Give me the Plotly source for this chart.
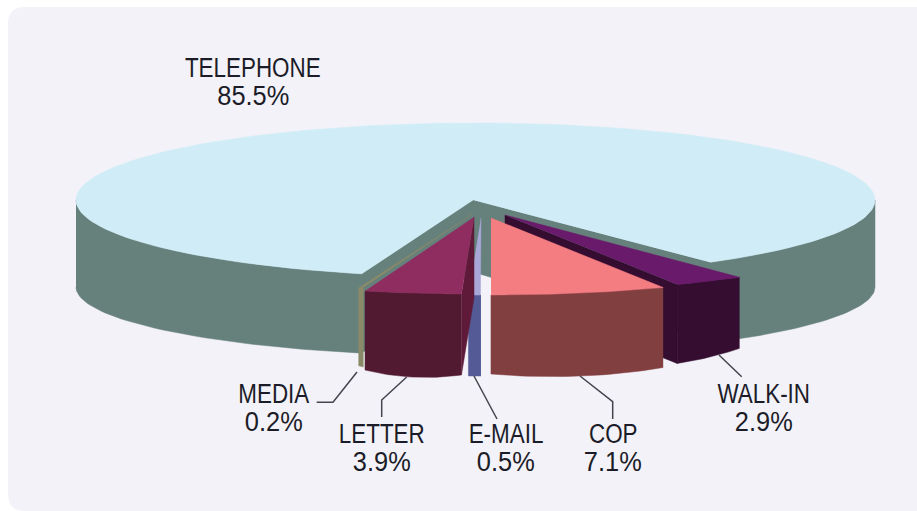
import math
import plotly.graph_objects as go

# Share of calls by contact channel (percent)
categories = ["WALK-IN", "COP", "E-MAIL", "LETTER", "MEDIA", "TELEPHONE"]
shares = [2.9, 7.1, 0.5, 3.9, 0.2, 85.5]

# Colours per channel: top face, outer side, cut wall
top_colors = ["#6a1a6a", "#f47d82", "#a9a6d8", "#8f2c60", "#8a8a68", "#d0ecf7"]
side_colors = ["#340d30", "#823f40", "#545a96", "#521a30", "#8a8a68", "#66807c"]
wall_colors = ["#340d30", None, None, "#5e1a38", None, None]

# Pie projection, in plot units (the axes run 1:1 with the page)
RX, RY = 399.5, 77.0
START_DEG = 54.04
BODY_CENTER = (475.5, 200.0)
BODY_APEX = (473.0, 200.0)
BODY_DEPTH, BODY_FLOOR_RY, BODY_APEX_DEPTH = 87.0, 69.0, 72.0

# Exploded slice centres and their side heights at start, middle and end of the arc
slice_apex = [(505.0, 215.0), (491.0, 218.0), (481.0, 218.0), (474.0, 217.0), (472.5, 214.0)]
slice_depth = [
    (71.0, 76.0, 79.0),
    (80.0, 83.0, 79.0),
    (81.0, 81.0, 81.0),
    (81.0, 84.0, 79.0),
    (79.0, 78.5, 78.0),
]

# Label placement: centre x, first-line y, second-line y
label_pos = {
    "TELEPHONE": (253, 67.5, 95.5),
    "MEDIA": (274, 394, 422),
    "LETTER": (382, 434, 462),
    "E-MAIL": (505.5, 434, 462),
    "COP": (613, 434, 462),
    "WALK-IN": (763.5, 393.5, 421.5),
}
leaders = {
    "MEDIA": [(316.7, 402.3), (333, 402.3), (357, 372)],
    "LETTER": [(406.7, 377), (381.7, 400), (381.7, 417)],
    "E-MAIL": [(474, 376), (497, 419)],
    "COP": [(580, 376), (612.7, 401.7), (612.7, 419)],
    "WALK-IN": [(719, 355), (741.7, 376.7)],
}
LABEL_FONT = "Liberation Sans, Arial, sans-serif"
LABEL_SIZE = 27
NAME_SQUEEZE = 0.83
SHARE_SQUEEZE = 0.94
LABEL_COLOR = "#1c1c28"
PANEL_COLOR = "#f2f2f8"


def rim(center, deg):
    t = math.radians(deg)
    return center[0] + RX * math.cos(t), center[1] + RY * math.sin(t)


def arc(center, a, b, n=60):
    return [rim(center, a + (b - a) * i / n) for i in range(n + 1)]


def polygon(fig, points, color):
    fig.add_trace(go.Scatter(
        x=[p[0] for p in points], y=[p[1] for p in points],
        mode="lines", fill="toself", fillcolor=color,
        line=dict(color=color, width=0.5), hoverinfo="skip", showlegend=False,
    ))


def side_height(depths, u):
    # quadratic through the start, middle and end heights, u in 0..1
    d0, dm, d1 = depths
    return (
        d0 * (1 - u) * (1 - 2 * u)
        + dm * 4 * u * (1 - u)
        + d1 * u * (2 * u - 1)
    )


# Turn the shares into sweep angles, going round from the right-hand cut
total = sum(shares)
edges = [START_DEG]
for value in shares:
    edges.append(edges[-1] + value / total * 360)

fig = go.Figure()

# Body of the largest slice: outer side on both flanks plus the inner cut walls
a_left, a_right = edges[-2], edges[-1]
floor = lambda deg: (
    BODY_CENTER[0] + RX * math.cos(math.radians(deg)),
    BODY_CENTER[1] + BODY_DEPTH + BODY_FLOOR_RY * math.sin(math.radians(deg)),
)
body = arc(BODY_CENTER, 180, a_left) + [BODY_APEX] + arc(BODY_CENTER, a_right - 360, 0)
body += [floor(a_right - 360 + (0 - (a_right - 360)) * (1 - i / 40)) for i in range(41)]
body += [(BODY_APEX[0], BODY_APEX[1] + BODY_APEX_DEPTH)]
body += [floor(a_left + (180 - a_left) * i / 40) for i in range(41)]
polygon(fig, body, side_colors[-1])
polygon(fig, [BODY_APEX] + arc(BODY_CENTER, a_left, a_right, 200), top_colors[-1])

# Exploded slices, back to front as seen from the right
for i in range(5):
    a, b = edges[i], edges[i + 1]
    apex = slice_apex[i]
    depths = slice_depth[i]
    # the wall on the cut edge that faces the viewer
    if wall_colors[i]:
        near = a if categories[i] == "LETTER" else b
        dn = depths[0] if near == a else depths[2]
        corner = rim(apex, near)
        polygon(fig, [apex, (apex[0], apex[1] + dn), (corner[0], corner[1] + dn), corner], wall_colors[i])
    upper = arc(apex, a, b, 24)
    lower = [(p[0], p[1] + side_height(depths, k / 24)) for k, p in enumerate(upper)]
    polygon(fig, upper + lower[::-1], side_colors[i])
    polygon(fig, [apex] + upper, top_colors[i])

# Leader lines from slice to label
for pts in leaders.values():
    fig.add_trace(go.Scatter(
        x=[p[0] for p in pts], y=[p[1] for p in pts], mode="lines",
        line=dict(color="#44444c", width=1.5), hoverinfo="skip", showlegend=False,
    ))

# Two-line labels: channel name and its share
annotations = []
for name, value in zip(categories, shares):
    cx, y1, y2 = label_pos[name]
    for text, y in ((name, y1), (f"{value}%", y2)):
        annotations.append(dict(
            x=cx, y=y, text=text, showarrow=False, xanchor="center", yanchor="middle",
            font=dict(family=LABEL_FONT, size=LABEL_SIZE, color=LABEL_COLOR),
        ))

fig.update_layout(
    width=917, height=511, autosize=False,
    margin=dict(l=0, r=0, t=0, b=0),
    paper_bgcolor="#ffffff", plot_bgcolor="#ffffff",
    xaxis=dict(range=[0, 917], visible=False, fixedrange=True),
    yaxis=dict(range=[511, 0], visible=False, fixedrange=True),
    annotations=annotations,
    shapes=[dict(
        type="path", layer="below", line=dict(width=0), fillcolor=PANEL_COLOR,
        path="M 8 24 Q 8 7 25 7 L 917 7 L 917 511 L 25 511 Q 8 511 8 494 Z",
    )],
)

# Condensed lettering: no narrow face is available, so tighten the glyphs in place
condense_labels = """
document.querySelectorAll('.annotation-text').forEach(function (t) {
  var k = t.textContent.slice(-1) === '%%' ? %s : %s;
  t.setAttribute('textLength', t.getComputedTextLength() * k);
  t.setAttribute('lengthAdjust', 'spacingAndGlyphs');
});
""" % (SHARE_SQUEEZE, NAME_SQUEEZE)

fig.write_html("out.html", post_script=condense_labels)
